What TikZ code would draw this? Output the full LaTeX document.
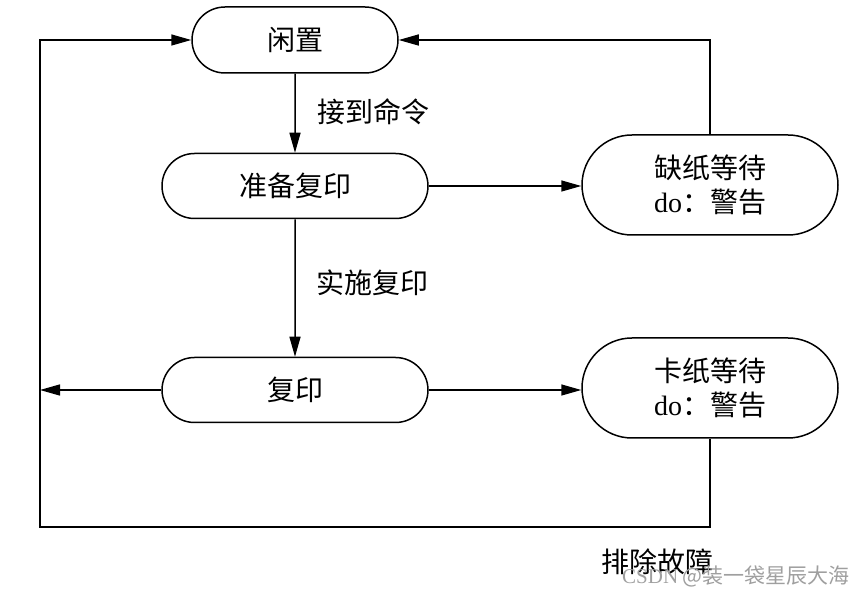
\documentclass[tikz,border=0pt]{standalone}
\usepackage{fontspec}
\setmainfont{Liberation Serif}
\newfontfamily\cjk{Noto Sans CJK SC}
\usetikzlibrary{shapes.misc,arrows.meta}
\tikzset{
  state/.style={rounded rectangle, draw, line width=1.5pt, inner sep=0pt,
    font=\fontsize{28}{34}\selectfont\cjk, align=center},
  smallstate/.style={state, minimum width=206pt, minimum height=66pt},
  midstate/.style={state, minimum width=266pt, minimum height=65pt},
  bigstate/.style={state, minimum width=256pt, minimum height=100pt},
  conn/.style={line width=1.5pt},
  arr/.style={conn, -{Triangle[length=20pt,width=11pt]}},
  lbl/.style={font=\fontsize{28}{34}\selectfont\cjk, inner sep=0pt},
  wm/.style={font=\fontsize{21}{24}\selectfont\cjk, text=gray!75, inner sep=0pt}
}
\begin{document}
\begin{tikzpicture}[x=1pt,y=-1pt]
\useasboundingbox (0,0) rectangle (857,593);
\node[smallstate] (xz) at (295,40) {闲置};
\node[midstate] (zb) at (295,186) {准备复印};
\node[bigstate] (qz) at (710,185) {缺纸等待\\{\rmfamily do}：警告};
\node[midstate] (fy) at (295,390) {复印};
\node[bigstate] (kz) at (710,388) {卡纸等待\\{\rmfamily do}：警告};
\coordinate (lft) at (40,390);
\coordinate (bl) at (40,527);
\node[lbl] (l1) at (373,112) {接到命令};
\node[lbl] (l2) at (372,283) {实施复印};
\node[lbl] (l3) at (657,562) {排除故障};
\node[wm] (w) at (736,576) {{\rmfamily CSDN} @装一袋星辰大海};
\draw[arr] (xz) -- (zb);
\draw[arr] (zb) -- (fy);
\draw[arr] (zb.east) -- (zb.east -| qz.west);
\draw[arr] (qz.north) |- (xz.east);
\draw[arr] (fy.east) -- (fy.east -| kz.west);
\draw[arr] (fy.west) -- (lft);
\draw[arr] (kz.south) |- (bl) |- (xz.west);
\end{tikzpicture}
\end{document}
